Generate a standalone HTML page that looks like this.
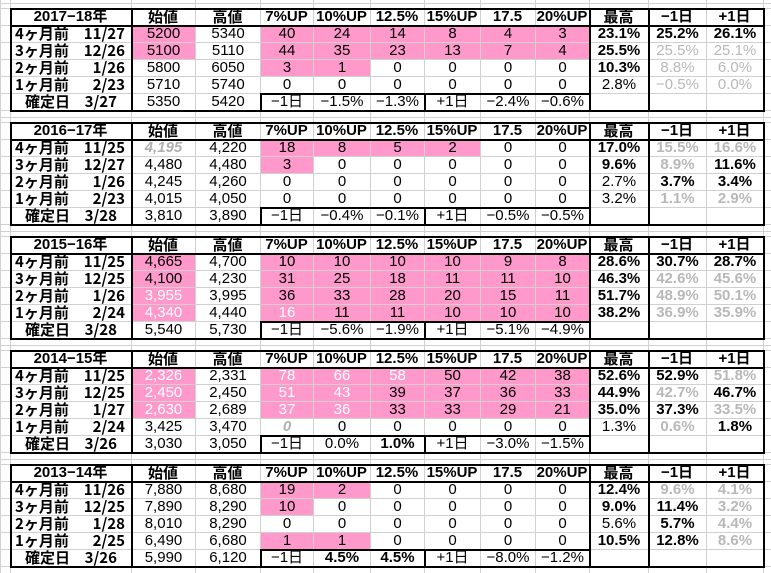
<!DOCTYPE html>
<html><head><meta charset="utf-8">
<style>
html,body{margin:0;padding:0;background:#fff;}
#sheet{position:relative;width:771px;height:573px;overflow:hidden;background:#fff;font-family:"Liberation Sans","Noto Sans CJK JP",sans-serif;}
.c{position:absolute;height:17px;line-height:17px;text-align:center;font-size:15px;color:#000;white-space:pre;box-sizing:border-box;}
.pk{background:#ff99cc;}
.b{font-weight:bold;}
.g{color:#b8b8b8;}
.w{color:#fff;}
.i{font-style:italic;color:#b0b0b0;font-weight:bold;}
.hd{font-weight:bold;font-size:15px;}
.lab{font-weight:bold;font-size:15px;font-family:"Noto Sans CJK JP","Liberation Sans",sans-serif;}
.ln{position:absolute;}
</style></head>
<body>
<div id="sheet"></div>
<script>
const colEdges=[10,131,195,260,313,370,424,480,535,589,648,706,763];
const headers=["始値","高値","7%UP","10%UP","12.5%","15%UP","17.5","20%UP","最高","−1日","+1日"];
const sectionTitles=["2017−18年","2016−17年","2015−16年","2014−15年","2013−14年"];
const rowLabels=[
 [["4ヶ月前","11/27"],["3ヶ月前","12/26"],["2ヶ月前","1/26"],["1ヶ月前","2/23"],["確定日","3/27"]],
 [["4ヶ月前","11/25"],["3ヶ月前","12/27"],["2ヶ月前","1/26"],["1ヶ月前","2/23"],["確定日","3/28"]],
 [["4ヶ月前","11/25"],["3ヶ月前","12/25"],["2ヶ月前","1/26"],["1ヶ月前","2/24"],["確定日","3/28"]],
 [["4ヶ月前","11/25"],["3ヶ月前","12/25"],["2ヶ月前","1/27"],["1ヶ月前","2/24"],["確定日","3/26"]],
 [["4ヶ月前","11/26"],["3ヶ月前","12/25"],["2ヶ月前","1/28"],["1ヶ月前","2/25"],["確定日","3/26"]]
];
const values=[
 [["5200","5340","40","24","14","8","4","3","b:23.1%","b:25.2%","b:26.1%"],
  ["5100","5110","44","35","23","13","7","4","b:25.5%","g:25.5%","g:25.1%"],
  ["5800","6050","3","1","0","0","0","0","b:10.3%","g:8.8%","g:6.0%"],
  ["5710","5740","0","0","0","0","0","0","2.8%","g:−0.5%","g:0.0%"],
  ["5350","5420","−1日","−1.5%","−1.3%","+1日","−2.4%","−0.6%","","",""]],
 [["i:4,195","4,220","18","8","5","2","0","0","b:17.0%","gb:15.5%","gb:16.6%"],
  ["4,480","4,480","3","0","0","0","0","0","b:9.6%","gb:8.9%","b:11.6%"],
  ["4,245","4,260","0","0","0","0","0","0","2.7%","b:3.7%","b:3.4%"],
  ["4,015","4,050","0","0","0","0","0","0","3.2%","gb:1.1%","gb:2.9%"],
  ["3,810","3,890","−1日","−0.4%","−0.1%","+1日","−0.5%","−0.5%","","",""]],
 [["4,665","4,700","10","10","10","10","9","8","b:28.6%","b:30.7%","b:28.7%"],
  ["4,100","4,230","31","25","18","11","11","10","b:46.3%","gb:42.6%","gb:45.6%"],
  ["w:3,955","3,995","36","33","28","20","15","11","b:51.7%","gb:48.9%","gb:50.1%"],
  ["w:4,340","4,440","w:16","11","11","10","10","10","b:38.2%","gb:36.9%","gb:35.9%"],
  ["5,540","5,730","−1日","−5.6%","−1.9%","+1日","−5.1%","−4.9%","","",""]],
 [["w:2,326","2,331","w:78","w:66","w:58","50","42","38","b:52.6%","b:52.9%","gb:51.8%"],
  ["w:2,450","2,450","w:51","w:43","39","37","36","33","b:44.9%","gb:42.7%","b:46.7%"],
  ["w:2,630","2,689","w:37","w:36","33","33","29","21","b:35.0%","b:37.3%","gb:33.5%"],
  ["3,425","3,470","i:0","0","0","0","0","0","1.3%","gb:0.6%","b:1.8%"],
  ["3,030","3,050","−1日","0.0%","b:1.0%","+1日","−3.0%","−1.5%","","",""]],
 [["7,880","8,680","19","2","0","0","0","0","b:12.4%","gb:9.6%","gb:4.1%"],
  ["7,890","8,290","10","0","0","0","0","0","b:9.0%","b:11.4%","gb:3.2%"],
  ["8,010","8,290","0","0","0","0","0","0","5.6%","b:5.7%","gb:4.4%"],
  ["6,490","6,680","1","1","0","0","0","0","b:10.5%","b:12.8%","gb:8.6%"],
  ["5,990","6,120","−1日","b:4.5%","b:4.5%","+1日","−8.0%","−1.2%","","",""]]
];
// pink cell column indices (0 = 始値, 2.. = 7%UP..)
const pinkCells=[
 [[0,2,3,4,5,6,7],[0,2,3,4,5,6,7],[2,3],[],[]],
 [[2,3,4,5],[2],[],[],[]],
 [[0,2,3,4,5,6,7],[0,2,3,4,5,6,7],[0,2,3,4,5,6,7],[0,2,3,4,5,6,7],[]],
 [[0,2,3,4,5,6,7],[0,2,3,4,5,6,7],[0,2,3,4,5,6,7],[],[]],
 [[2,3],[2],[],[2,3],[]]
];
const sheet=document.getElementById('sheet');
const ROW=17, SEC=114, TOP=8;
function line(x,y,w,h,col){
 const d=document.createElement('div');d.className='ln';
 d.style.cssText=`left:${x}px;top:${y}px;width:${w}px;height:${h}px;background:${col};`;
 
 
 sheet.appendChild(d);
}
// gray gridlines
const gray='#d0d0d0';
const gridX=[0].concat(colEdges);
gridX.forEach(x=>line(x,0,1,573,gray));
for(let s=-1;s<5;s++){
 const t=TOP+SEC*s;
 for(let r=0;r<=6;r++) line(0,t+r*ROW,771,1,gray);
 line(0,t+6*ROW+7,771,1,gray);
}
// cells
for(let s=0;s<5;s++){
 const t=TOP+SEC*s;
 // header
 const h=document.createElement('div');h.className='c hd';
 h.style.left=colEdges[0]+'px';h.style.top=t+'px';h.style.width=(colEdges[1]-colEdges[0])+'px';
 h.textContent=sectionTitles[s];
 
 
 sheet.appendChild(h);
 headers.forEach((txt,i)=>{
  const d=document.createElement('div');d.className='c hd';
  d.style.left=colEdges[i+1]+'px';d.style.top=t+'px';d.style.width=(colEdges[i+2]-colEdges[i+1])+'px';
  if(i==0||i==1||i==8) d.style.fontFamily='"Noto Sans CJK JP","Liberation Sans",sans-serif';
  d.textContent=txt;
  
  
  sheet.appendChild(d);
 });
 for(let r=0;r<5;r++){
  const y=t+ROW*(r+1);
  const lab=document.createElement('div');lab.className='c lab';
  lab.style.left=colEdges[0]+'px';lab.style.top=y+'px';lab.style.width=(colEdges[1]-colEdges[0])+'px';
  lab.style.textAlign='left';
  const a=rowLabels[s][r];
  lab.innerHTML=`<span style="position:absolute;left:${r==4?15:5}px">${a[0]}</span><span style="position:absolute;right:${r==4?14:6}px">${a[1]}</span>`;
  
  
  sheet.appendChild(lab);
  values[s][r].forEach((v,i)=>{
   const d=document.createElement('div');d.className='c';
   let cls='',txt=v;
   const m=v.match(/^(gb|b|g|w|i):(.*)$/);
   if(m){txt=m[2];cls=m[1]=='gb'?'g b':m[1];}
   if(cls) d.className+=' '+cls;
   if(pinkCells[s][r].includes(i)) d.className+=' pk';
   const x0=colEdges[i+1],x1=colEdges[i+2];
   d.style.left=(x0+1)+'px';d.style.top=(y+1)+'px';d.style.width=(x1-x0-1)+'px';d.style.height='16px';d.style.lineHeight='16px';
   d.textContent=txt;
   
   
   sheet.appendChild(d);
  });
 }
 // black borders
 const L=colEdges[0],R=colEdges[12],H=6*ROW;
 line(L,t,R-L+2,2,'#000');
 line(L,t+H,R-L+2,2,'#000');
 line(L,t,2,H+2,'#000');
 line(R,t,2,H+2,'#000');
 line(L,t+ROW,R-L,2,'#000');
 line(colEdges[1],t,2,H,'#000');
 line(colEdges[9],t,2,H,'#000');
 line(colEdges[10],t,2,H,'#000');
 // confirmation row box
 line(colEdges[3],t+5*ROW,colEdges[9]-colEdges[3],2,'#000');
 line(colEdges[3],t+5*ROW,2,ROW,'#000');
 line(colEdges[6],t+5*ROW,2,ROW,'#000');
}
</script>
</body></html>
